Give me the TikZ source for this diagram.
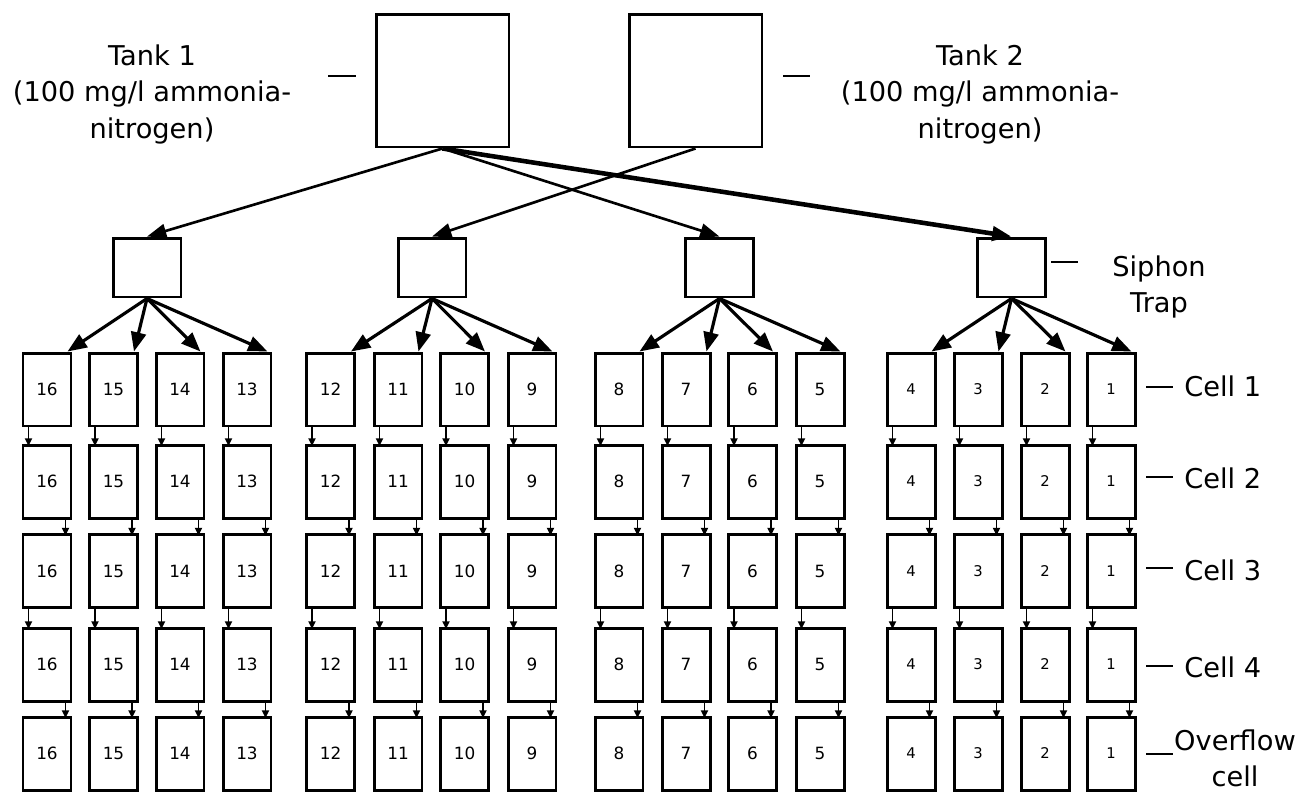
\documentclass[tikz,border=0pt]{standalone}
\usepackage{fontspec}
\setmainfont{DejaVu Sans}
\usetikzlibrary{arrows.meta,calc}

\tikzset{
  tank/.style={draw,line width=1.7pt,minimum size=2.66cm,inner sep=0pt},
  trap/.style={draw,line width=1.7pt,minimum width=1.36cm,minimum height=1.18cm,inner sep=0pt},
  cell/.style={draw,line width=1.7pt,minimum width=0.96cm,minimum height=1.46cm,inner sep=0pt,font=\fontsize{9.6}{11}\selectfont},
  cellsm/.style={cell,font=\fontsize{8.4}{10}\selectfont},
  feed/.style={line width=1.5pt,-{Triangle[length=11pt,width=8pt]}},
  split/.style={line width=1.8pt,-{Triangle[length=11pt,width=8.5pt]}},
  pass/.style={line width=1.1pt,-{Triangle[length=4.5pt,width=4pt]},shorten >=-1.5pt},
  tick/.style={line width=1.2pt},
  lbl/.style={align=center,inner sep=0pt,font=\fontsize{15.5}{21}\selectfont}
}

\begin{document}
\begin{tikzpicture}[x=0.02cm,y=-0.02cm]
  \useasboundingbox (0,0) rectangle (1314,792);
  % tanks
  \node[tank] (tank1) at (442.5,80.5) {};
  \node[tank] (tank2) at (695.5,80.5) {};
  \node[lbl,anchor=north] (lblTank1) at (152,44) {Tank 1\\(100 mg/l ammonia-\\nitrogen)};
  \node[lbl,anchor=north] (lblTank2) at (980,44) {Tank 2\\(100 mg/l ammonia-\\nitrogen)};
  \draw[tick] (328,76) -- (356,76);
  \draw[tick] (783,76) -- (810,76);
  % siphon traps
  \node[trap] (trap1) at (147,267.5) {};
  \node[trap] (trap2) at (432,267.5) {};
  \node[trap] (trap3) at (719.5,267.5) {};
  \node[trap] (trap4) at (1011.5,267.5) {};
  \node[lbl,anchor=north] (lblTrap) at (1159,255) {Siphon\\Trap};
  \draw[tick] (1051,262) -- (1078,262);
  \draw[feed] (tank1.south) -- (trap1.north);
  \draw[feed] (tank1.south) -- (trap3.north);
  \draw[feed,line width=2.6pt] (tank1.south) -- (trap4.north);
  \draw[feed] (tank2.south) -- (trap2.north);
  % cells, five rows per line
  \foreach \n/\x/\f in {16/47/cell,15/113.5/cell,14/180/cell,13/247/cell,
                        12/330.5/cell,11/398/cell,10/464.5/cell,9/532/cell,
                        8/619/cell,7/686/cell,6/752.5/cell,5/820/cell,
                        4/911/cellsm,3/978/cellsm,2/1045/cellsm,1/1111/cellsm}{
    \foreach \r/\y in {1/389.5,2/481.5,3/571,4/664.5,5/753.5}
      \node[\f] (c\n-\r) at (\x,\y) {\n};
    % flow down the line, left and right in turn
    \foreach \r/\s/\o in {1/west/7,2/east/-7,3/west/7,4/east/-7}{
      \pgfmathtruncatemacro{\rr}{\r+1}
      \draw[pass] ($(c\n-\r.south \s)+(\o,0)$) -- ($(c\n-\rr.north \s)+(\o,0)$);
    }
  }
  % traps to first cells
  \foreach \t/\a/\b/\c/\d in {1/16/15/14/13,2/12/11/10/9,3/8/7/6/5,4/4/3/2/1}
    \foreach \n in {\a,\b,\c,\d}
      \draw[split] (trap\t.south) -- ($(c\n-1.north east)+(-5,0)$);
  % row labels
  \node[lbl,anchor=base west] (lblCell1) at (1184,396) {Cell 1};
  \node[lbl,anchor=base west] (lblCell2) at (1184,488) {Cell 2};
  \node[lbl,anchor=base west] (lblCell3) at (1184,580) {Cell 3};
  \node[lbl,anchor=base west] (lblCell4) at (1184,677) {Cell 4};
  \node[lbl,anchor=north] (lblOver) at (1235,729) {Overflow\\cell};
  \draw[tick] (1146,387) -- (1173,387);
  \draw[tick] (1146,477) -- (1173,477);
  \draw[tick] (1146,568) -- (1173,568);
  \draw[tick] (1146,666) -- (1173,666);
  \draw[tick] (1146,754) -- (1173,754);
\end{tikzpicture}
\end{document}
